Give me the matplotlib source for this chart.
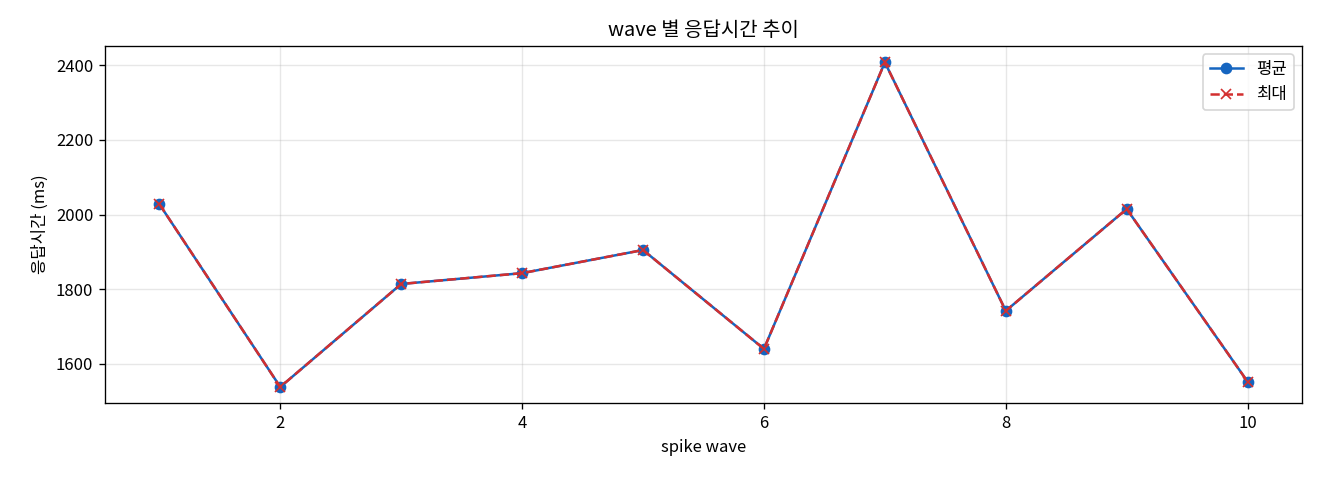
import matplotlib
matplotlib.use("Agg")
import matplotlib.pyplot as plt

plt.rcParams['font.family'] = ['Noto Sans CJK KR', 'DejaVu Sans']
plt.rcParams['axes.unicode_minus'] = False

waves = [1, 2, 3, 4, 5, 6, 7, 8, 9, 10]
avg_ms = [2028, 1538, 1814, 1843, 1905, 1640, 2408, 1742, 2015, 1552]
max_ms = [2028, 1538, 1814, 1843, 1905, 1640, 2408, 1742, 2015, 1552]

fig, ax = plt.subplots(figsize=(11, 4), dpi=120)

ax.plot(waves, avg_ms, marker='o', color='#1565C0', label='평균')
ax.plot(waves, max_ms, marker='x', linestyle='--', color='#D32F2F', label='최대')

ax.set_title('wave 별 응답시간 추이')
ax.set_xlabel('spike wave')
ax.set_ylabel('응답시간 (ms)')
ax.grid(True, alpha=0.3)
ax.legend(loc='upper right')

fig.subplots_adjust(left=0.0795, right=0.9864, top=0.904, bottom=0.160)
plt.savefig('out.png')
